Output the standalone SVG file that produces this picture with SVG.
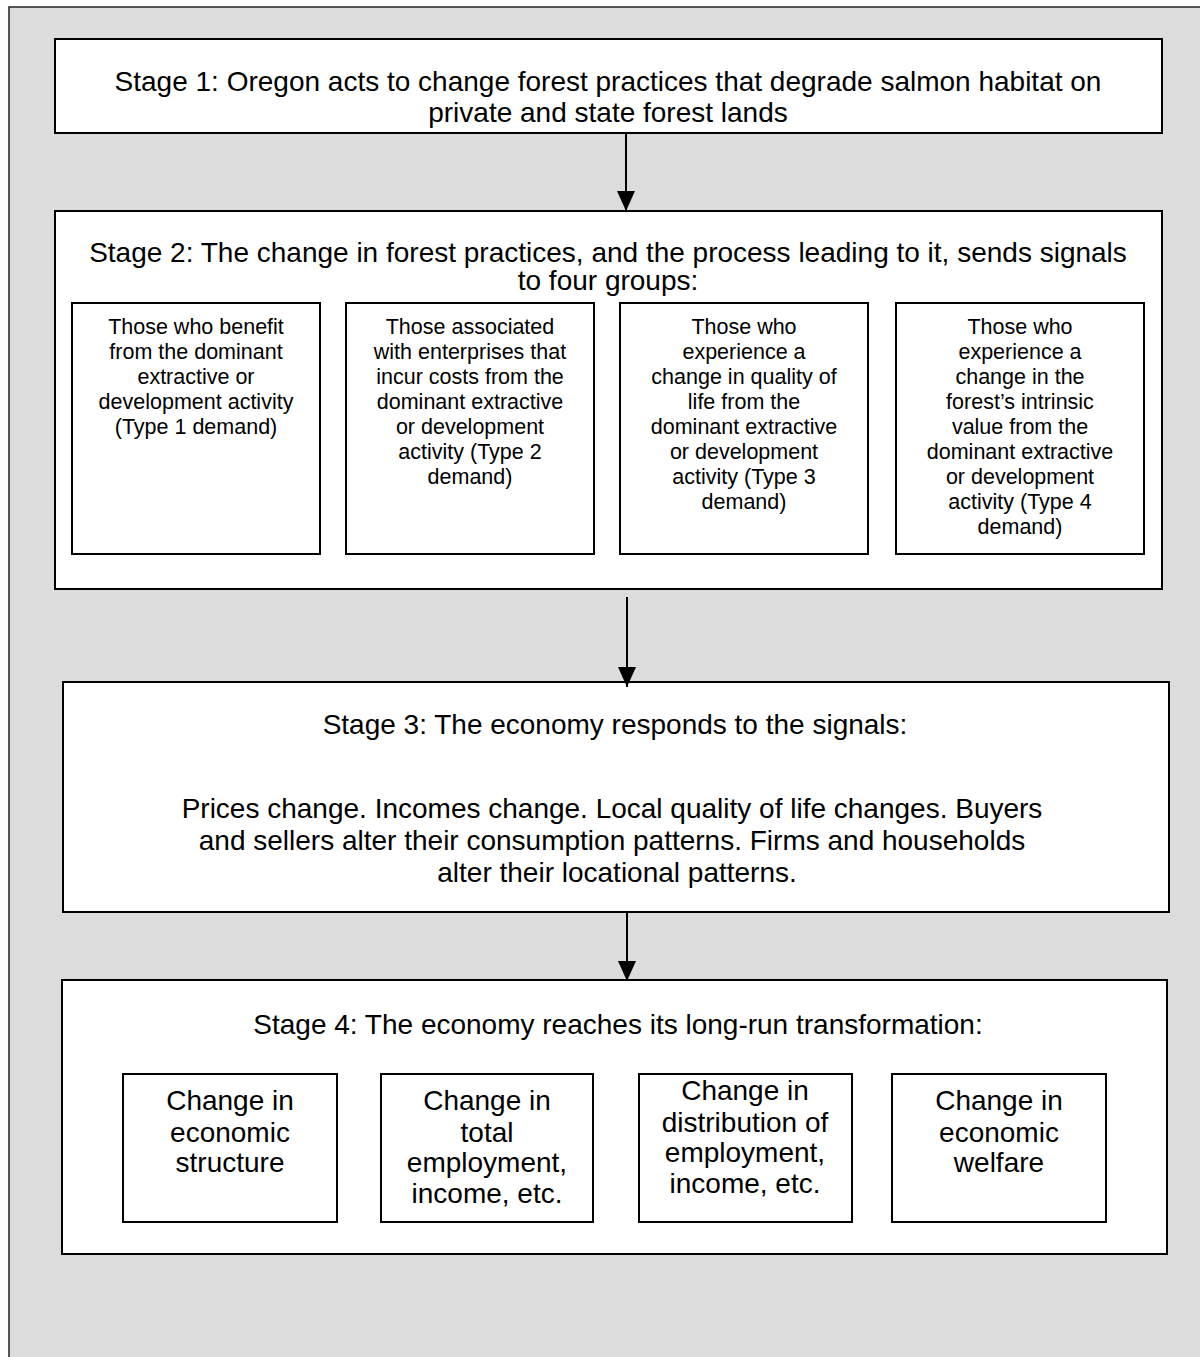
<svg xmlns="http://www.w3.org/2000/svg" width="1200" height="1357" viewBox="0 0 1200 1357">
<defs>
<style>
.frame{fill:#dcdcdc;stroke:#222;stroke-width:1.5}
.box{fill:#fff;stroke:#000;stroke-width:2}
.t{font-family:"Liberation Sans",Arial,sans-serif;fill:#000;text-anchor:middle}
.big{font-size:28px}
.sm{font-size:21.5px}
.conn{stroke:#000;stroke-width:2;fill:none}
</style>
<marker id="ah" markerUnits="userSpaceOnUse" markerWidth="20" markerHeight="18" refX="20" refY="9" orient="auto" viewBox="0 0 20 18">
<path d="M0,0 L20,9 L0,18 Z" fill="#000"/>
</marker>
</defs>
<rect class="frame" x="9" y="7" width="1300" height="1400"/>

<g id="stage1">
<rect class="box" x="55" y="39" width="1107" height="94"/>
<text class="t big" x="608" y="91">Stage 1: Oregon acts to change forest practices that degrade salmon habitat on</text>
<text class="t big" x="608" y="122">private and state forest lands</text>
</g>

<g id="stage2">
<rect class="box" x="55" y="211" width="1107" height="378"/>
<text class="t big" x="608" y="262">Stage 2: The change in forest practices, and the process leading to it, sends signals</text>
<text class="t big" x="608" y="290">to four groups:</text>
</g>

<g id="type1">
<rect class="box" x="72" y="303" width="248" height="251"/>
<text class="t sm" x="196"><tspan x="196" y="334">Those who benefit</tspan><tspan x="196" y="359">from the dominant</tspan><tspan x="196" y="384">extractive or</tspan><tspan x="196" y="409">development activity</tspan><tspan x="196" y="434">(Type 1 demand)</tspan></text>
</g>
<g id="type2">
<rect class="box" x="346" y="303" width="248" height="251"/>
<text class="t sm" x="470"><tspan x="470" y="334">Those associated</tspan><tspan x="470" y="359">with enterprises that</tspan><tspan x="470" y="384">incur costs from the</tspan><tspan x="470" y="409">dominant extractive</tspan><tspan x="470" y="434">or development</tspan><tspan x="470" y="459">activity (Type 2</tspan><tspan x="470" y="484">demand)</tspan></text>
</g>
<g id="type3">
<rect class="box" x="620" y="303" width="248" height="251"/>
<text class="t sm" x="744"><tspan x="744" y="334">Those who</tspan><tspan x="744" y="359">experience a</tspan><tspan x="744" y="384">change in quality of</tspan><tspan x="744" y="409">life from the</tspan><tspan x="744" y="434">dominant extractive</tspan><tspan x="744" y="459">or development</tspan><tspan x="744" y="484">activity (Type 3</tspan><tspan x="744" y="509">demand)</tspan></text>
</g>
<g id="type4">
<rect class="box" x="896" y="303" width="248" height="251"/>
<text class="t sm" x="1020"><tspan x="1020" y="334">Those who</tspan><tspan x="1020" y="359">experience a</tspan><tspan x="1020" y="384">change in the</tspan><tspan x="1020" y="409">forest’s intrinsic</tspan><tspan x="1020" y="434">value from the</tspan><tspan x="1020" y="459">dominant extractive</tspan><tspan x="1020" y="484">or development</tspan><tspan x="1020" y="509">activity (Type 4</tspan><tspan x="1020" y="534">demand)</tspan></text>
</g>

<g id="stage3">
<rect class="box" x="63" y="682" width="1106" height="230"/>
<text class="t big" x="615" y="734">Stage 3: The economy responds to the signals:</text>
<text class="t big" x="612" y="818">Prices change. Incomes change. Local quality of life changes. Buyers</text>
<text class="t big" x="612" y="850">and sellers alter their consumption patterns. Firms and households</text>
<text class="t big" x="617" y="882">alter their locational patterns.</text>
</g>

<g id="stage4">
<rect class="box" x="62" y="980" width="1105" height="274"/>
<text class="t big" x="618" y="1034">Stage 4: The economy reaches its long-run transformation:</text>
</g>
<g id="structure">
<rect class="box" x="123" y="1074" width="214" height="148"/>
<text class="t big" x="230"><tspan x="230" y="1110">Change in</tspan><tspan x="230" y="1142">economic</tspan><tspan x="230" y="1172">structure</tspan></text>
</g>
<g id="total">
<rect class="box" x="381" y="1074" width="212" height="148"/>
<text class="t big" x="487"><tspan x="487" y="1110">Change in</tspan><tspan x="487" y="1142">total</tspan><tspan x="487" y="1172">employment,</tspan><tspan x="487" y="1203">income, etc.</tspan></text>
</g>
<g id="distribution">
<rect class="box" x="639" y="1074" width="213" height="148"/>
<text class="t big" x="745"><tspan x="745" y="1100">Change in</tspan><tspan x="745" y="1132">distribution of</tspan><tspan x="745" y="1162">employment,</tspan><tspan x="745" y="1193">income, etc.</tspan></text>
</g>
<g id="welfare">
<rect class="box" x="892" y="1074" width="214" height="148"/>
<text class="t big" x="999"><tspan x="999" y="1110">Change in</tspan><tspan x="999" y="1142">economic</tspan><tspan x="999" y="1172">welfare</tspan></text>
</g>

<g id="connectors">
<line class="conn" x1="626" y1="134" x2="626" y2="211" marker-end="url(#ah)"/>
<line class="conn" x1="627" y1="597" x2="627" y2="687" marker-end="url(#ah)"/>
<line class="conn" x1="627" y1="912" x2="627" y2="981" marker-end="url(#ah)"/>
</g>
</svg>
